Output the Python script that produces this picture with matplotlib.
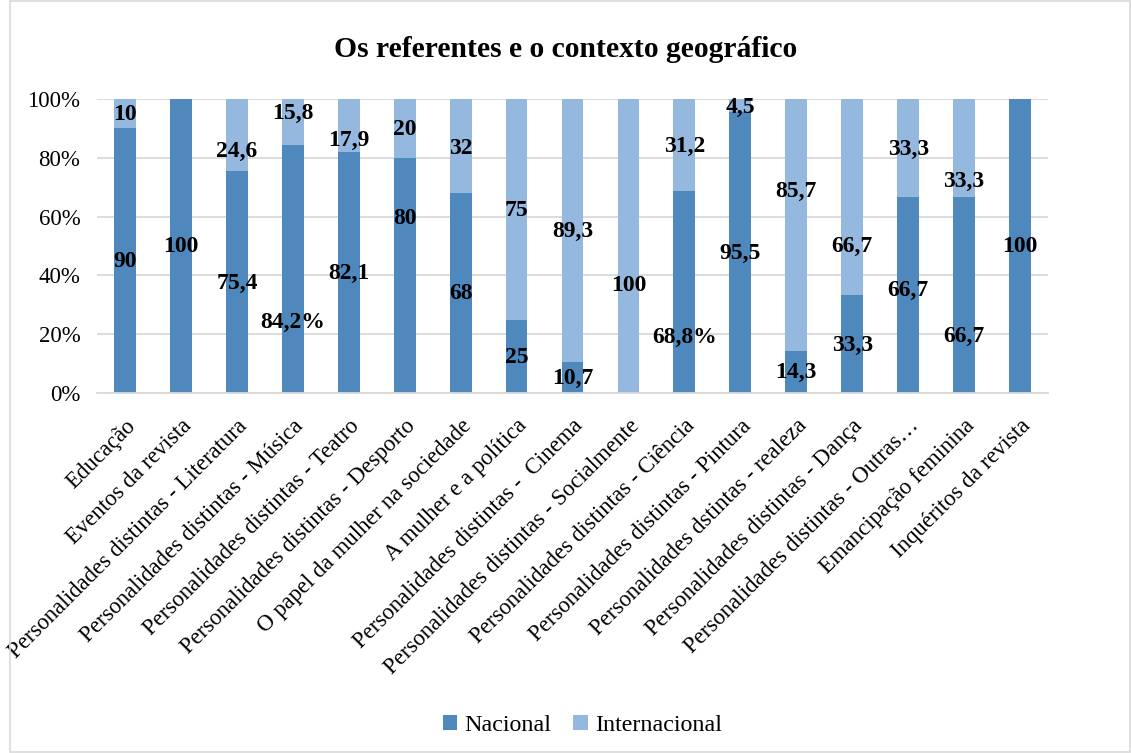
import numpy as np
import matplotlib
matplotlib.use("Agg")
from matplotlib import pyplot as plt
from matplotlib.patches import Rectangle
from matplotlib.ticker import PercentFormatter

plt.rcParams['font.family'] = ['Liberation Serif', 'DejaVu Serif']

categories = [
    "Educação", "Eventos da revista", "Personalidades distintas - Literatura",
    "Personalidades distintas - Música", "Personalidades distintas - Teatro",
    "Personalidades distintas - Desporto", "O papel da mulher na sociedade",
    "A mulher e a política", "Personalidades distintas -  Cinema",
    "Personalidades distintas - Socialmente", "Personalidades distintas - Ciência",
    "Personalidades distintas - Pintura", "Personalidades dstintas - realeza",
    "Personalidades distintas - Dança", "Personalidades distintas - Outras…",
    "Emancipação feminina", "Inquéritos da revista",
]
nacional = [90, 100, 75.4, 84.2, 82.1, 80, 68, 25, 10.7, 0, 68.8, 95.5, 14.3, 33.3, 66.7, 66.7, 100]
internacional = [10, 0, 24.6, 15.8, 17.9, 20, 32, 75, 89.3, 100, 31.2, 4.5, 85.7, 66.7, 33.3, 33.3, 0]

# data label texts as shown (None = no label)
nac_labels = ["90", "100", "75,4", "84,2%", "82,1", "80", "68", "25", "10,7", None,
              "68,8%", "95,5", "14,3", "33,3", "66,7", "66,7", "100"]
int_labels = ["10", None, "24,6", "15,8", "17,9", "20", "32", "75", "89,3", "100",
              "31,2", "4,5", "85,7", "66,7", "33,3", "33,3", None]
# where the labels were dragged to in the original (percent height)
nac_label_y = [44.6, 49.7, 37.4, 24.1, 40.8, 59.2, 33.7, 12.2, 5.1, None,
               19.0, 47.6, 7.1, 16.3, 35.0, 19.4, 49.7]
int_label_y = [94.6, None, 82.3, 95.2, 86.0, 89.8, 83.3, 62.2, 54.8, 36.7,
               84.0, 97.3, 68.7, 50.0, 83.0, 72.1, None]

c_nac = '#4F88BD'
c_int = '#95B8DF'

fig = plt.figure(figsize=(11.31, 7.53), dpi=100)
ax = fig.add_axes([0.0858, 0.478, 0.8408, 0.3905])

x = np.arange(len(categories))
tot = np.array(nacional) + np.array(internacional)
nac_pct = np.array(nacional) / tot * 100
int_pct = np.array(internacional) / tot * 100

ax.bar(x, nac_pct, width=0.39, color=c_nac, label='Nacional', zorder=2)
ax.bar(x, int_pct, width=0.39, bottom=nac_pct, color=c_int, label='Internacional', zorder=2)

for i in x:
    if nac_labels[i] is not None:
        ax.text(i, nac_label_y[i], nac_labels[i], ha='center', va='center',
                fontsize=17, fontweight='bold', zorder=3)
    if int_labels[i] is not None:
        ax.text(i, int_label_y[i], int_labels[i], ha='center', va='center',
                fontsize=17, fontweight='bold', zorder=3)

ax.set_xlim(-0.5, len(categories) - 0.5)
ax.set_ylim(0, 100)
ax.set_yticks(np.arange(0, 101, 20))
ax.yaxis.set_major_formatter(PercentFormatter(decimals=0))
ax.grid(axis='y', color='#D9D9D9', linewidth=1.3, zorder=0)
ax.set_xticks(x)
ax.set_xticklabels(categories, rotation=45, ha='right', rotation_mode='anchor', fontsize=16.4)
ax.tick_params(axis='y', length=0, labelsize=16.5, pad=12)
ax.tick_params(axis='x', length=0, pad=16)
for s in ['top', 'right', 'left']:
    ax.spines[s].set_visible(False)
ax.spines['bottom'].set_color('#D9D9D9')
ax.spines['bottom'].set_linewidth(1.3)

fig.suptitle("Os referentes e o contexto geográfico", y=0.934, va='center',
             fontsize=21.3, fontweight='bold')

fig.legend(loc='center', bbox_to_anchor=(0.515, 0.037), ncol=2, frameon=False,
           fontsize=17.3, handlelength=0.6, handleheight=0.6, handletextpad=0.3,
           columnspacing=0.9)

fig.patches.append(Rectangle((0.009, 0.001), 0.99, 0.998, transform=fig.transFigure,
                             fill=False, edgecolor='#D9D9D9', linewidth=1.2))

fig.savefig('out.png', dpi=100)
